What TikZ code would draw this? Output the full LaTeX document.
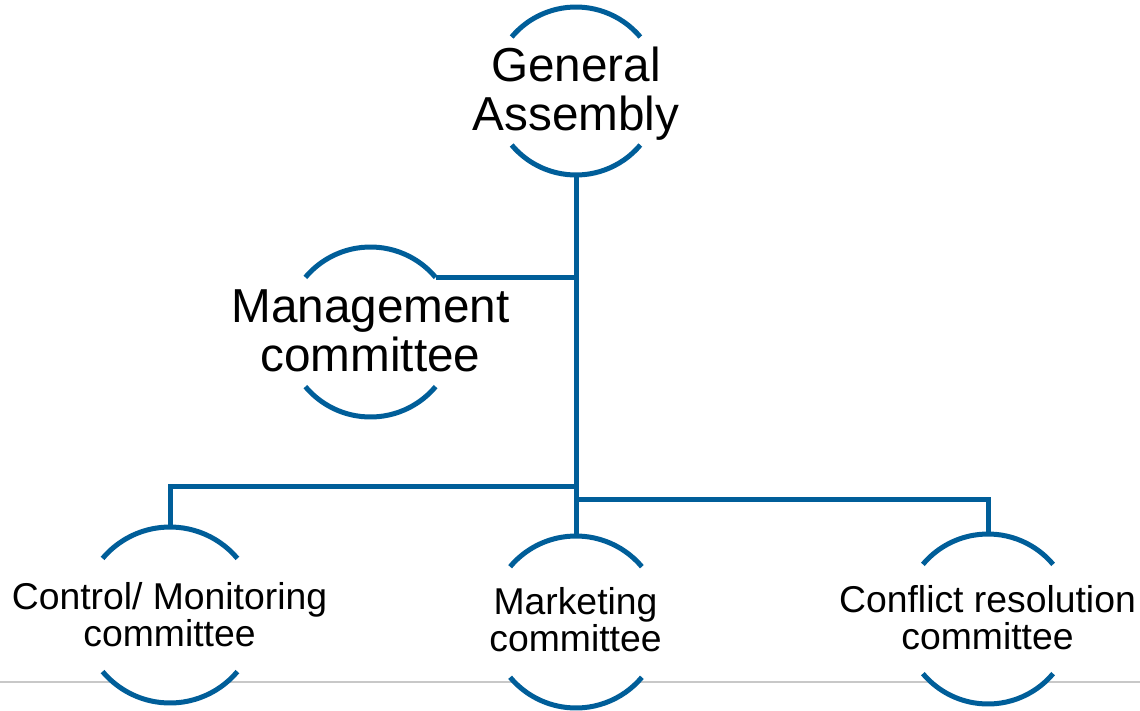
\documentclass[tikz,border=0pt]{standalone}
\usepackage{fontspec}
\setmainfont{Liberation Sans}
\definecolor{unitblue}{RGB}{0,94,153}
\definecolor{rulegray}{RGB}{200,200,200}
\tikzset{every picture/.style={line width=0.75pt}}
\tikzset{
  unit/.style={circle, fill=white, draw=none, inner sep=0pt, outer sep=0pt},
  unitline/.style={draw=unitblue, line width=3.75pt},
  bigtext/.style={inner sep=0.75pt, align=center, font=\fontsize{35.75}{36.75}\selectfont},
  smalltext/.style={inner sep=0.75pt, align=center, font=\fontsize{28}{28.25}\selectfont},
}

\begin{document}
\begin{tikzpicture}[x=0.75pt,y=0.75pt,yscale=-1,xscale=1]
\useasboundingbox (0,0) rectangle (1140,711);

%Straight Lines: bottom rule
\draw [color=rulegray, line width=1.1pt] (0,682) -- (1140,682) ;

%Shape: Circle [General Assembly]
\node [unit, minimum size=126pt] (ga) at (576,91) {};
%Shape: Circle [Management]
\node [unit, minimum size=127.5pt] (mg) at (370.5,332) {};
%Shape: Circle [Control]
\node [unit, minimum size=132pt] (ctl) at (170,615) {};
%Shape: Circle [Marketing]
\node [unit, minimum size=129pt] (mk) at (576,622) {};
%Shape: Circle [Conflict]
\node [unit, minimum size=127.5pt] (cr) at (988,619) {};

%Shape: Arc
\draw [unitline] (ga.40) arc [start angle=-40, end angle=-140, radius=84] ;
\draw [unitline] (ga.-40) arc [start angle=40, end angle=140, radius=84] ;
%Shape: Arc
\draw [unitline] (mg.40) arc [start angle=-40, end angle=-140, radius=85] ;
\draw [unitline] (mg.-40) arc [start angle=40, end angle=140, radius=85] ;
%Shape: Arc
\draw [unitline] (ctl.40) arc [start angle=-40, end angle=-140, radius=88] ;
\draw [unitline] (ctl.-40) arc [start angle=40, end angle=140, radius=88] ;
%Shape: Arc
\draw [unitline] (mk.40) arc [start angle=-40, end angle=-140, radius=86] ;
\draw [unitline] (mk.-40) arc [start angle=40, end angle=140, radius=86] ;
%Shape: Arc
\draw [unitline] (cr.40) arc [start angle=-40, end angle=-140, radius=85] ;
\draw [unitline] (cr.-40) arc [start angle=40, end angle=140, radius=85] ;

%Straight Lines
\coordinate (jl) at (576,486) ;
\coordinate (jr) at (576,499) ;
\draw [unitline] (ga.south) -- (mk.north) ;
\draw [unitline] (mg.40) -- (mg.40 -| ga.south) ;
\draw [unitline] (ctl.north) |- (jl) ;
\draw [unitline] (jr) -| (cr.north) ;

% Text Node
\node [bigtext] (ga-t) at (576,94) {General\\Assembly};
% Text Node
\node [bigtext] (mg-t) at (370.5,330.5) {Management\\committee};
% Text Node
\node [smalltext] (ctl-t) at (169.5,614.5) {Control/ Monitoring\\committee};
% Text Node
\node [smalltext] (mk-t) at (575.5,619.5) {Marketing\\committee};
% Text Node
\node [smalltext] (cr-t) at (987.5,617.5) {Conflict resolution\\committee};

\end{tikzpicture}
\end{document}
